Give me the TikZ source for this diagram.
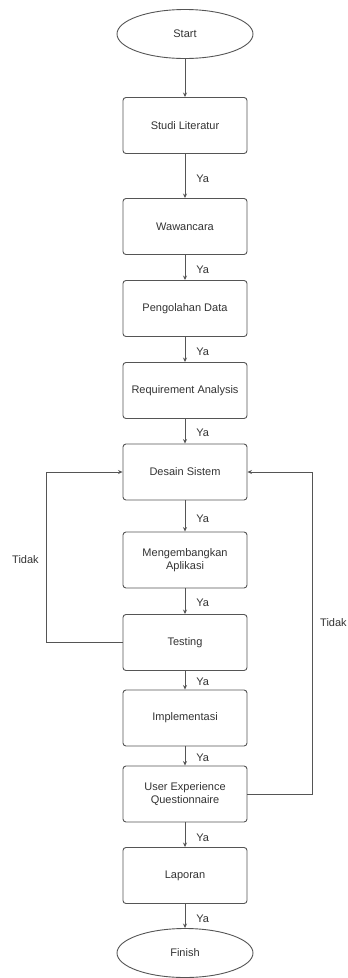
\documentclass[tikz,border=0pt]{standalone}
\usepackage{fontspec}
\setmainfont{Liberation Sans}
\usetikzlibrary{arrows.meta,shapes.geometric}
\definecolor{ln}{HTML}{555555}
\definecolor{tx}{HTML}{333333}
\begin{document}
\begin{tikzpicture}[x=1pt,y=-1pt,
  font=\fontsize{11}{13}\selectfont, text=tx,
  box/.style={draw=ln, line width=0.9pt, rounded corners=3pt, minimum width=124pt, minimum height=56pt, align=center, inner sep=1pt},
  oval/.style={draw=ln, line width=0.9pt, ellipse, minimum width=136pt, minimum height=49pt, inner sep=0pt},
  arr/.style={draw=ln, line width=0.9pt, -{Stealth[length=4.5pt,width=4pt]}},
  lbl/.style={anchor=west, inner sep=0pt}]
\useasboundingbox (0,0) rectangle (348,978);
\fill[white] (0,0) rectangle (348,978);
\node[oval] (start) at (185,34) {Start};
\node[box] (studi) at (185,125.5) {Studi Literatur};
\node[box] (waw) at (185,226.5) {Wawancara};
\node[box] (peng) at (185,308.5) {Pengolahan Data};
\node[box] (req) at (185,390.5) {Requirement Analysis};
\node[box] (des) at (185,472) {Desain Sistem};
\node[box] (meng) at (185,560) {Mengembangkan\\Aplikasi};
\node[box] (test) at (185,642.5) {Testing};
\node[box] (impl) at (185,718) {Implementasi};
\node[box] (ueq) at (185,794) {User Experience\\Questionnaire};
\node[box] (lap) at (185,875.5) {Laporan};
\node[oval] (fin) at (185,953) {Finish};

\draw[arr] (start) -- (studi);
\draw[arr] (studi) -- node[lbl, xshift=11pt, yshift=-3pt] {Ya} (waw);
\draw[arr] (waw) -- node[lbl, xshift=11pt, yshift=-2pt] {Ya} (peng);
\draw[arr] (peng) -- node[lbl, xshift=11pt, yshift=-2pt] {Ya} (req);
\draw[arr] (req) -- node[lbl, xshift=11pt, yshift=-2pt] {Ya} (des);
\draw[arr] (des) -- node[lbl, xshift=11pt, yshift=-3pt] {Ya} (meng);
\draw[arr] (meng) -- node[lbl, xshift=11pt, yshift=-2pt] {Ya} (test);
\draw[arr] (test) -- node[lbl, xshift=11pt, yshift=-2pt] {Ya} (impl);
\draw[arr] (impl) -- node[lbl, xshift=11pt, yshift=-2pt] {Ya} (ueq);
\draw[arr] (ueq) -- node[lbl, xshift=11pt, yshift=-3pt] {Ya} (lap);
\draw[arr] (lap) -- node[lbl, xshift=11pt, yshift=-3pt] {Ya} (fin);

\coordinate (lt) at (46,642.5);
\coordinate (rt) at (312,794);
\draw[arr] (test.west) -- (lt) |- (des.west);
\draw[arr] (ueq.east) -- (rt) |- (des.east);
\node[anchor=west, inner sep=0pt] (tl) at (12,560) {Tidak};
\node[anchor=west, inner sep=0pt] (tr) at (320,623) {Tidak};
\end{tikzpicture}
\end{document}
